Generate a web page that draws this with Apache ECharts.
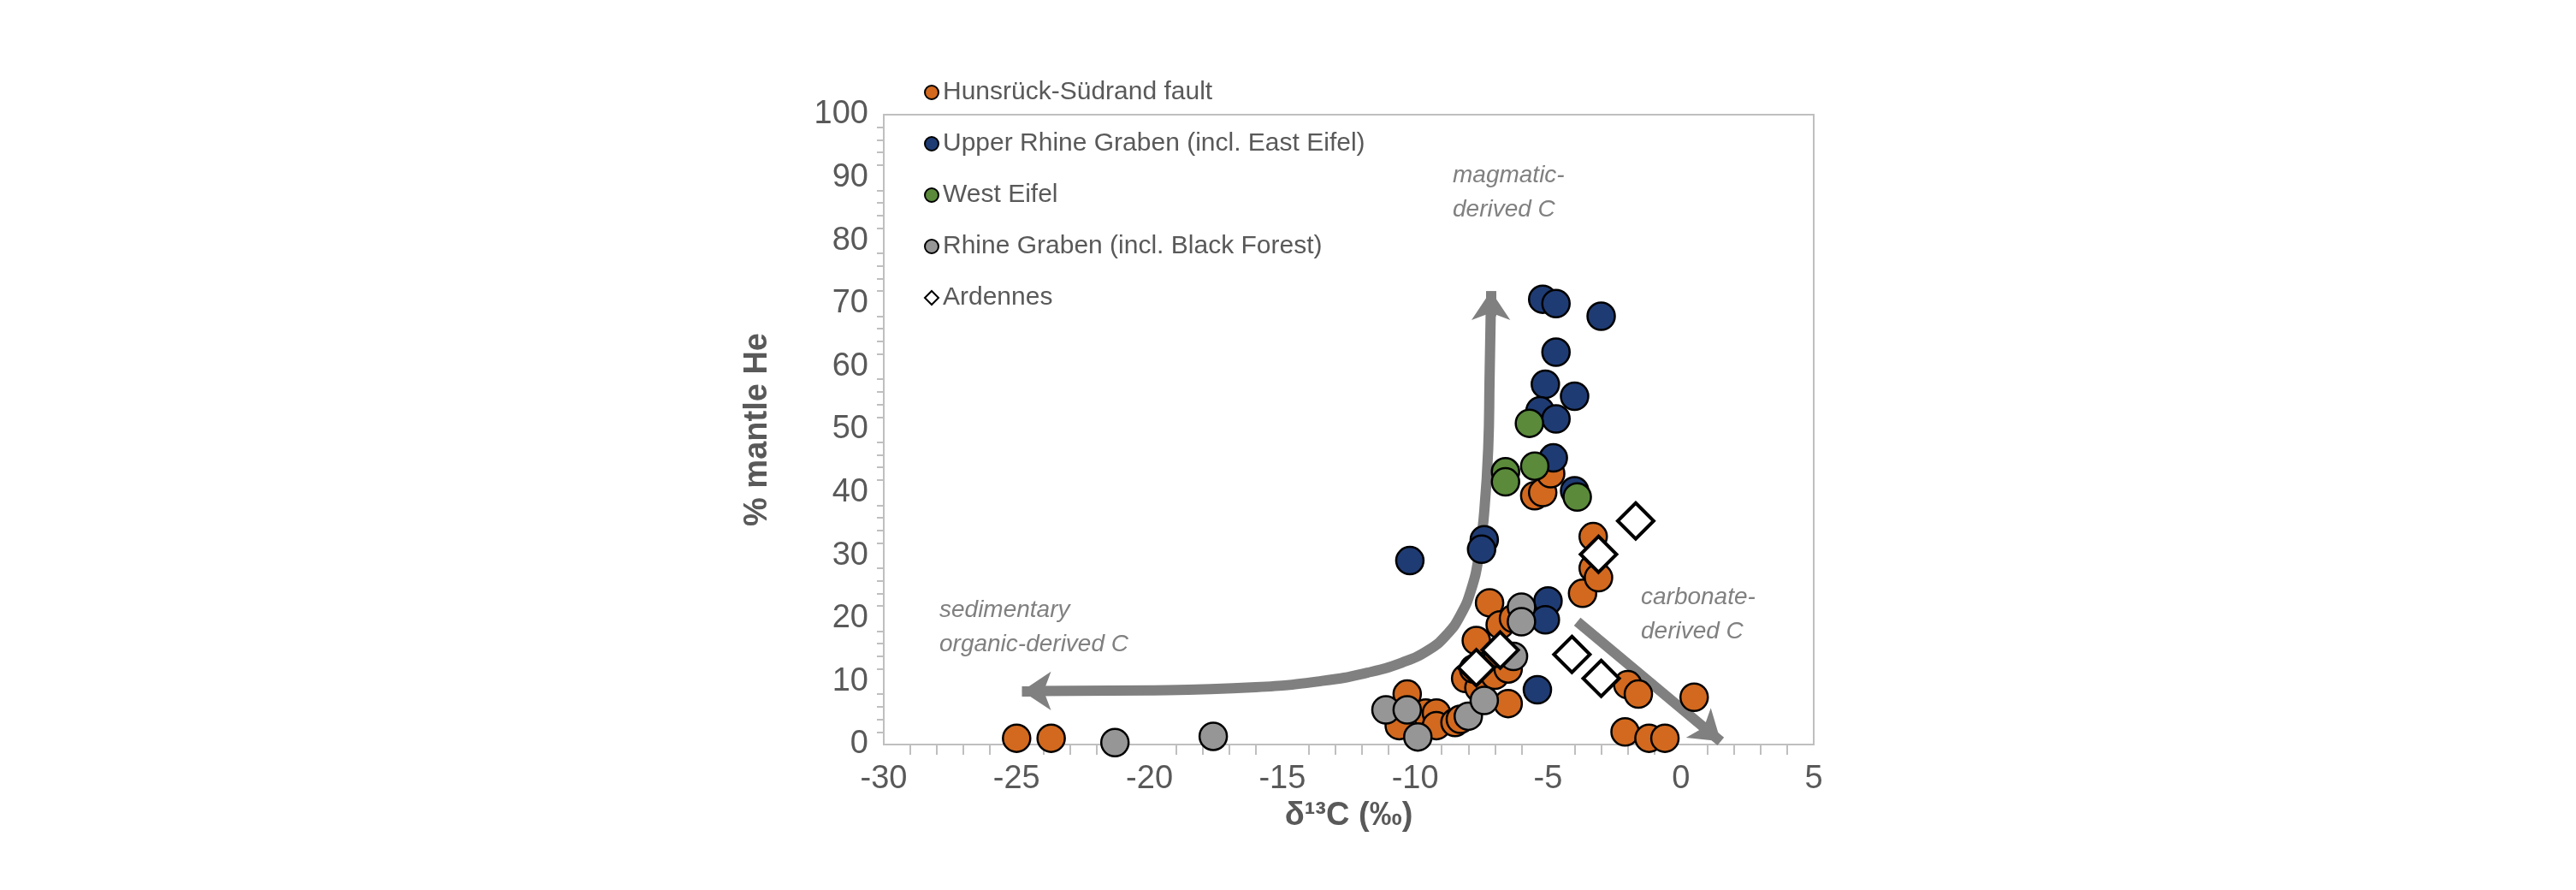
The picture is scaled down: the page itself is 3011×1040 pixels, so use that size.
<!DOCTYPE html>
<html><head><meta charset="utf-8">
<script src="https://cdn.jsdelivr.net/npm/echarts@6/dist/echarts.min.js"></script>
<style>html,body{margin:0;padding:0;background:#fff}#c{width:3011px;height:1040px}</style>
</head><body><div id="c"></div>
<script>
// δ13C (x), % mantle He (y)
var hunsrueck = [[-25,1],[-23.7,1],[-10.3,8],[-10.6,3],[-9.6,5],[-9.2,5],[-9.2,3],[-8.5,3.5],[-8.3,4],[-8.1,10.5],[-7.7,16.5],[-7.6,9],[-7.2,22.5],[-7.0,11],[-6.8,19],[-6.5,12],[-6.5,6.5],[-6.3,20],[-5.5,39.5],[-5.2,40],[-4.9,43],[-3.7,24],[-3.3,28],[-3.1,26.5],[-3.3,33],[-2.0,9.5],[-1.6,8],[-2.1,2],[-1.2,1],[-0.6,1],[0.5,7.5],[-7.8,12],[-6.9,14.5]];
var upperRhine = [[-10.2,29.2],[-7.4,32.5],[-7.5,31],[-5.2,70.7],[-4.7,70],[-3,68],[-4.7,62.3],[-5.1,57.2],[-4,55.3],[-5.3,53],[-4.7,51.7],[-4.8,45.5],[-5,22.8],[-5.1,19.8],[-5.4,8.7],[-4.0,40.3]];
var westEifel = [[-5.7,51],[-6.6,43.3],[-6.6,41.7],[-5.5,44.2],[-3.9,39.3]];
var rhineGraben = [[-21.3,0.3],[-17.6,1.3],[-11.1,5.5],[-10.3,5.5],[-9.9,1.2],[-8,4.5],[-7.4,7],[-6,21.8],[-6,19.5],[-6.3,14]];
var ardennes = [[-1.7,35.5],[-3.1,30.2],[-4.1,14.3],[-3,10.5],[-7.7,12.2],[-6.8,15]];
var organicArrow = [[-24.3,8.5],[-20,8.6],[-16,9.1],[-13.5,10.1],[-11.8,11.4],[-10.5,13],[-9.5,15],[-8.8,17.5],[-8.3,20.5],[-7.9,24.5],[-7.6,30],[-7.4,37],[-7.25,47],[-7.2,58],[-7.15,70]];
var organicHeads = [[[-24,8.5],[-24.8,8.5]], [[-7.15,68],[-7.15,72]]];
var carbonateArrow = [[-3.9,19.5],[1.5,0.5]];

var txt = '#595959', font = 'Liberation Sans';
function sc(name, data, color) {
  return {name: name, type: 'scatter', data: data, symbolSize: 32,
    itemStyle: {color: color, borderColor: '#000', borderWidth: 2.5, opacity: 1}};
}
var chart = echarts.init(document.getElementById('c'));
chart.setOption({
  animation: false,
  textStyle: {fontFamily: font},
  grid: {left: 1033, right: 891, top: 134, bottom: 170, show: true, borderColor: '#bfbfbf', borderWidth: 2},
  legend: {orient: 'vertical', left: 1075, top: 88, itemGap: 30, itemWidth: 16, itemHeight: 16,
    textStyle: {color: txt, fontSize: 30, fontFamily: font},
    data: [{name: 'Hunsrück-Südrand fault', icon: 'circle'}, {name: 'Upper Rhine Graben (incl. East Eifel)', icon: 'circle'},
      {name: 'West Eifel', icon: 'circle'}, {name: 'Rhine Graben (incl. Black Forest)', icon: 'circle'}, {name: 'Ardennes', icon: 'diamond'}]},
  xAxis: {type: 'value', min: -30, max: 5, interval: 5, name: 'δ¹³C (‰)', nameLocation: 'middle', nameGap: 64,
    nameTextStyle: {color: txt, fontSize: 38, fontWeight: 'bold', fontFamily: font},
    axisLine: {onZero: false, lineStyle: {color: '#bfbfbf', width: 2}}, axisTick: {show: false},
    minorTick: {show: true, splitNumber: 5, length: 12, lineStyle: {color: '#bfbfbf', width: 2}},
    splitLine: {show: false}, axisLabel: {color: txt, fontSize: 38, margin: 22}},
  yAxis: {type: 'value', min: 0, max: 100, interval: 10, name: '% mantle He', nameLocation: 'middle', nameGap: 128,
    nameTextStyle: {color: txt, fontSize: 38, fontWeight: 'bold', fontFamily: font},
    axisLine: {show: true, onZero: false, lineStyle: {color: '#bfbfbf', width: 2}}, axisTick: {show: false},
    minorTick: {show: true, splitNumber: 5, length: 8, lineStyle: {color: '#bfbfbf', width: 2}},
    splitLine: {show: false}, axisLabel: {color: txt, fontSize: 38, margin: 18}},
  series: [
    {type: 'line', data: organicArrow, smooth: true, showSymbol: false, silent: true,
      lineStyle: {color: '#808080', width: 12}, z: 1},
    {type: 'lines', coordinateSystem: 'cartesian2d', silent: true, symbol: ['none', 'arrow'], symbolSize: 34,
      lineStyle: {color: '#808080', width: 12, opacity: 1},
      data: organicHeads.map(function (c) { return {coords: c}; }), z: 1},
    {type: 'lines', coordinateSystem: 'cartesian2d', silent: true, symbol: ['none', 'arrow'], symbolSize: 34,
      lineStyle: {color: '#808080', width: 12, opacity: 1}, data: [{coords: carbonateArrow}], z: 1},
    sc('Hunsrück-Südrand fault', hunsrueck, '#d2691e'),
    sc('Upper Rhine Graben (incl. East Eifel)', upperRhine, '#1f3b73'),
    sc('West Eifel', westEifel, '#5a8a3a'),
    sc('Rhine Graben (incl. Black Forest)', rhineGraben, '#969696'),
    {name: 'Ardennes', type: 'scatter', symbol: 'diamond', symbolSize: [42, 42], data: ardennes, z: 5,
      itemStyle: {color: '#fff', borderColor: '#000', borderWidth: 4, opacity: 1}}
  ],
  graphic: [
    {type: 'text', left: 1698, top: 185, style: {text: 'magmatic-\nderived C', fill: '#808080', font: 'italic 28px Liberation Sans', lineHeight: 40}},
    {type: 'text', left: 1098, top: 693, style: {text: 'sedimentary\norganic-derived C', fill: '#808080', font: 'italic 28px Liberation Sans', lineHeight: 40}},
    {type: 'text', left: 1918, top: 678, style: {text: 'carbonate-\nderived C', fill: '#808080', font: 'italic 28px Liberation Sans', lineHeight: 40}}
  ]
});
</script></body></html>
